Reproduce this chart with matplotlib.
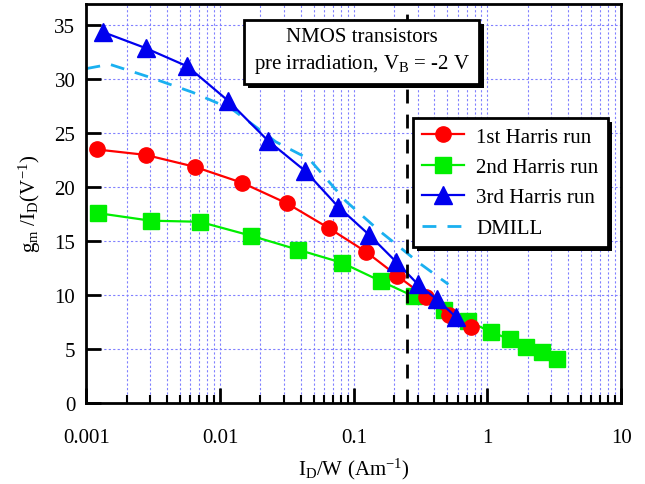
import numpy as np
import matplotlib
matplotlib.use("Agg")
import matplotlib.pyplot as plt
from matplotlib.ticker import LogLocator, FixedLocator, FixedFormatter, NullFormatter
import matplotlib.patheffects as pe

plt.rcParams["font.family"] = ["Liberation Serif", "DejaVu Serif"]
plt.rcParams["mathtext.fontset"] = "custom"
plt.rcParams["mathtext.rm"] = "Liberation Serif"
plt.rcParams["mathtext.it"] = "Liberation Serif"

# 1st Harris run
x_run1 = [0.0012, 0.00277, 0.00644, 0.0147, 0.0317, 0.0653, 0.124, 0.211, 0.347, 0.513, 0.75]
y_run1 = [23.5, 23.0, 21.9, 20.4, 18.5, 16.2, 14.0, 11.8, 9.8, 8.2, 7.0]

# 2nd Harris run
x_run2 = [0.00122, 0.00302, 0.00702, 0.0171, 0.0385, 0.0816, 0.159, 0.28, 0.473, 0.713,
          1.06, 1.47, 1.95, 2.57, 3.3]
y_run2 = [17.6, 16.9, 16.8, 15.5, 14.2, 13.0, 11.3, 9.9, 8.6, 7.6, 6.6, 5.9, 5.2, 4.7, 4.1]

# 3rd Harris run
x_run3 = [0.00132, 0.00277, 0.0057, 0.01153, 0.0229, 0.0434, 0.0764, 0.130, 0.207, 0.302,
          0.419, 0.578]
y_run3 = [34.4, 32.9, 31.2, 28.0, 24.3, 21.5, 18.2, 15.6, 13.1, 11.0, 9.6, 8.0]

# DMILL
x_dmill = [0.001, 0.00149, 0.00297, 0.00622, 0.0124, 0.0262, 0.0465, 0.0874, 0.154, 0.218,
           0.307, 0.51]
y_dmill = [31.0, 31.4, 30.2, 28.8, 27.2, 24.2, 22.6, 18.7, 16.0, 14.5, 13.0, 11.0]

x_vline = 0.25

xtick_vals = [0.001, 0.01, 0.1, 1, 10]
xtick_labels = ["0.001", "0.01", "0.1", "1", "10"]
ytick_vals = [0, 5, 10, 15, 20, 25, 30, 35]

fig = plt.figure(figsize=(6.45, 4.85), dpi=100)
ax = fig.add_axes([0.134, 0.167, 0.829, 0.823])

grid_col = "#8080ff"
ax.set_xscale("log")
ax.set_xlim(0.001, 10)
ax.set_ylim(0, 37)

ax.xaxis.set_major_locator(FixedLocator(xtick_vals))
ax.xaxis.set_major_formatter(FixedFormatter(xtick_labels))
ax.xaxis.set_minor_locator(LogLocator(base=10, subs=np.arange(2, 10)))
ax.xaxis.set_minor_formatter(NullFormatter())
ax.yaxis.set_major_locator(FixedLocator(ytick_vals))

ax.grid(True, which="major", axis="both", color=grid_col, linestyle=(0, (2, 2)), linewidth=0.8)
ax.grid(True, which="minor", axis="x", color=grid_col, linestyle=(0, (2, 2)), linewidth=0.8)
ax.set_axisbelow(True)

ax.tick_params(which="major", direction="in", length=11, width=2, labelsize=15,
               top=False, right=False)
ax.tick_params(axis="x", which="major", pad=18)
ax.tick_params(axis="y", which="major", pad=8)
ax.tick_params(which="minor", direction="in", length=6, width=1.5, top=False, right=False)
for s in ax.spines.values():
    s.set_linewidth(2)

ax.plot(x_run1, y_run1, color="#ff0000", lw=1.6, marker="o", ms=11, mec="#ff0000",
        label="1st Harris run", zorder=4)
ax.plot(x_run2, y_run2, color="#00ee00", lw=1.6, marker="s", ms=12, mec="#00ee00",
        label="2nd Harris run", zorder=3)
ax.plot(x_run3, y_run3, color="#0000ee", lw=1.6, marker="^", ms=13, mec="#0000ee",
        label="3rd Harris run", zorder=5)
ax.plot(x_dmill, y_dmill, color="#1ab0f0", lw=2, linestyle=(0, (5, 4)),
        label="DMILL", zorder=2)
ax.axvline(x_vline, color="black", lw=2, linestyle=(0, (5, 4)), zorder=6)

ax.set_xlabel(r"$\mathregular{I_D/W\ (Am^{-1})}$", fontsize=15, labelpad=6)
ax.set_ylabel(r"$\mathregular{g_m\ /I_D(V^{-1})}$", fontsize=15, labelpad=8)

shadow = [pe.SimplePatchShadow(offset=(3, -3), shadow_rgbFace="black", alpha=1), pe.Normal()]

leg = ax.legend(loc="upper right", bbox_to_anchor=(0.975, 0.715), borderaxespad=0,
                fontsize=15, frameon=True, fancybox=False, edgecolor="black",
                framealpha=1, handlelength=2.0, borderpad=0.45, labelspacing=0.52,
                handletextpad=0.6)
leg.get_frame().set_linewidth(2)
leg.get_frame().set_path_effects(shadow)
leg.set_zorder(10)

ax.text(0.515, 0.882, "NMOS transistors\npre irradiation, $\\mathregular{V_B}$ = -2 V",
        transform=ax.transAxes, ha="center", va="center", fontsize=15, linespacing=1.35,
        zorder=10,
        bbox=dict(boxstyle="square,pad=0.45", fc="white", ec="black", lw=2,
                  path_effects=shadow))

fig.savefig("out.png", dpi=100)
